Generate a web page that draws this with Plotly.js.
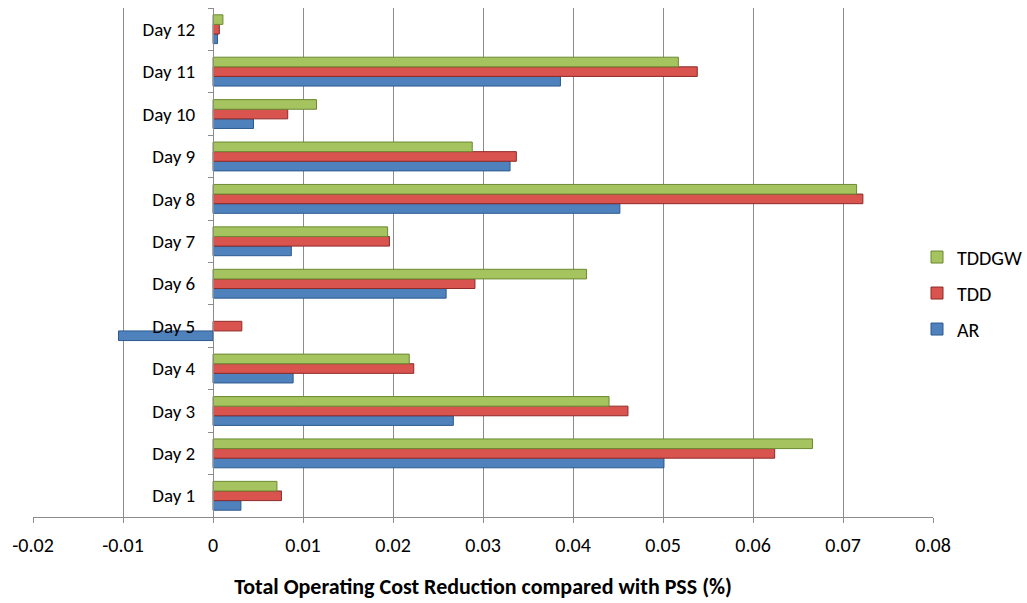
<!DOCTYPE html>
<html>
<head>
<meta charset="utf-8">
<script src="https://cdn.plot.ly/plotly-3.0.1.min.js"></script>
<style>
  html, body { margin: 0; padding: 0; background: #fff; }
  #chart { width: 1027px; height: 603px; }
</style>
</head>
<body>
<div id="chart"></div>
<script>
// Daily total operating cost reduction relative to PSS (%)
const days = ["Day 1", "Day 2", "Day 3", "Day 4", "Day 5", "Day 6",
              "Day 7", "Day 8", "Day 9", "Day 10", "Day 11", "Day 12"];
const arValues    = [0.0031, 0.0501, 0.0267, 0.0089, -0.0105, 0.0259, 0.0087, 0.0452, 0.0330, 0.0045, 0.0386, 0.0005];
const tddValues   = [0.0076, 0.0624, 0.0461, 0.0223,  0.0032, 0.0291, 0.0196, 0.0722, 0.0337, 0.0083, 0.0538, 0.0007];
const tddgwValues = [0.0071, 0.0666, 0.0440, 0.0218,  0.0000, 0.0415, 0.0194, 0.0715, 0.0288, 0.0115, 0.0517, 0.0011];
const xTicks = [-0.02, -0.01, 0, 0.01, 0.02, 0.03, 0.04, 0.05, 0.06, 0.07, 0.08];
const xTickText = ["-0.02", "-0.01", "0", "0.01", "0.02", "0.03", "0.04", "0.05", "0.06", "0.07", "0.08"];

const FONT = "Calibri, Carlito, Lato, 'Open Sans', sans-serif";

// Plot area geometry in pixels: the value axis spans 901px from the left margin,
// the right-hand strip of the paper is left for the legend.
const W = 1027, H = 603, ML = 33;
const PAPER_W = W - ML;
const X_DOMAIN_END = 901 / PAPER_W;
const X_MIN = -0.02, X_MAX = 0.08;
// category axis crosses the value axis at 0
const Y_AXIS_POS = X_DOMAIN_END * (0 - X_MIN) / (X_MAX - X_MIN);

function series(name, values, fill, edge, rank) {
  return {
    type: "bar",
    orientation: "h",
    name: name,
    legendgroup: name,
    legendrank: rank,
    y: days,
    x: values,
    // no outline on zero-length bars
    marker: { color: fill, line: { color: edge, width: values.map(v => (v === 0 ? 0 : 1)) } },
    hoverinfo: "name+x"
  };
}

const data = [
  series("AR", arValues, "#4F81BD", "#2C5A8F", 3),
  series("TDD", tddValues, "#D9534F", "#8E2B28", 2),
  series("TDDGW", tddgwValues, "#A5C45F", "#6C8A32", 1)
];

const layout = {
  width: W,
  height: H,
  margin: { l: ML, r: 0, t: 8, b: 86 },
  paper_bgcolor: "#ffffff",
  plot_bgcolor: "#ffffff",
  font: { family: FONT, color: "#000000", size: 16 },
  barmode: "group",
  bargap: 0.32,
  bargroupgap: 0,
  showlegend: true,
  legend: {
    x: (918 - ML) / PAPER_W, xanchor: "left",
    y: 0.44, yanchor: "middle",
    traceorder: "grouped",
    tracegroupgap: 7,
    font: { family: FONT, size: 20, color: "#000000" },
    itemwidth: 30,
    bgcolor: "rgba(0,0,0,0)"
  },
  xaxis: {
    domain: [0, X_DOMAIN_END],
    range: [X_MIN, X_MAX],
    tickvals: xTicks,
    ticktext: xTickText,
    showgrid: true,
    gridcolor: "#8c8c8c",
    gridwidth: 1,
    zeroline: false,
    showline: true,
    linecolor: "#8c8c8c",
    linewidth: 1,
    ticks: "outside",
    ticklen: 5,
    tickcolor: "#8c8c8c",
    ticklabelstandoff: 5,
    tickfont: { family: FONT, size: 20, color: "#000000" },
    title: {
      text: "<b>Total Operating Cost Reduction compared with PSS (%)</b>",
      font: { family: FONT, size: 22, color: "#000000" },
      standoff: 22
    },
    fixedrange: true
  },
  yaxis: {
    type: "category",
    categoryorder: "array",
    categoryarray: days,
    anchor: "free",
    position: Y_AXIS_POS,
    showgrid: false,
    zeroline: false,
    showline: true,
    linecolor: "#8c8c8c",
    linewidth: 1,
    ticks: "outside",
    tickson: "boundaries",
    ticklen: 5,
    tickcolor: "#8c8c8c",
    ticklabelstandoff: 14,
    tickfont: { family: FONT, size: 19, color: "#000000" },
    fixedrange: true
  }
};

Plotly.newPlot("chart", data, layout, { displayModeBar: false, staticPlot: true });
</script>
</body>
</html>
